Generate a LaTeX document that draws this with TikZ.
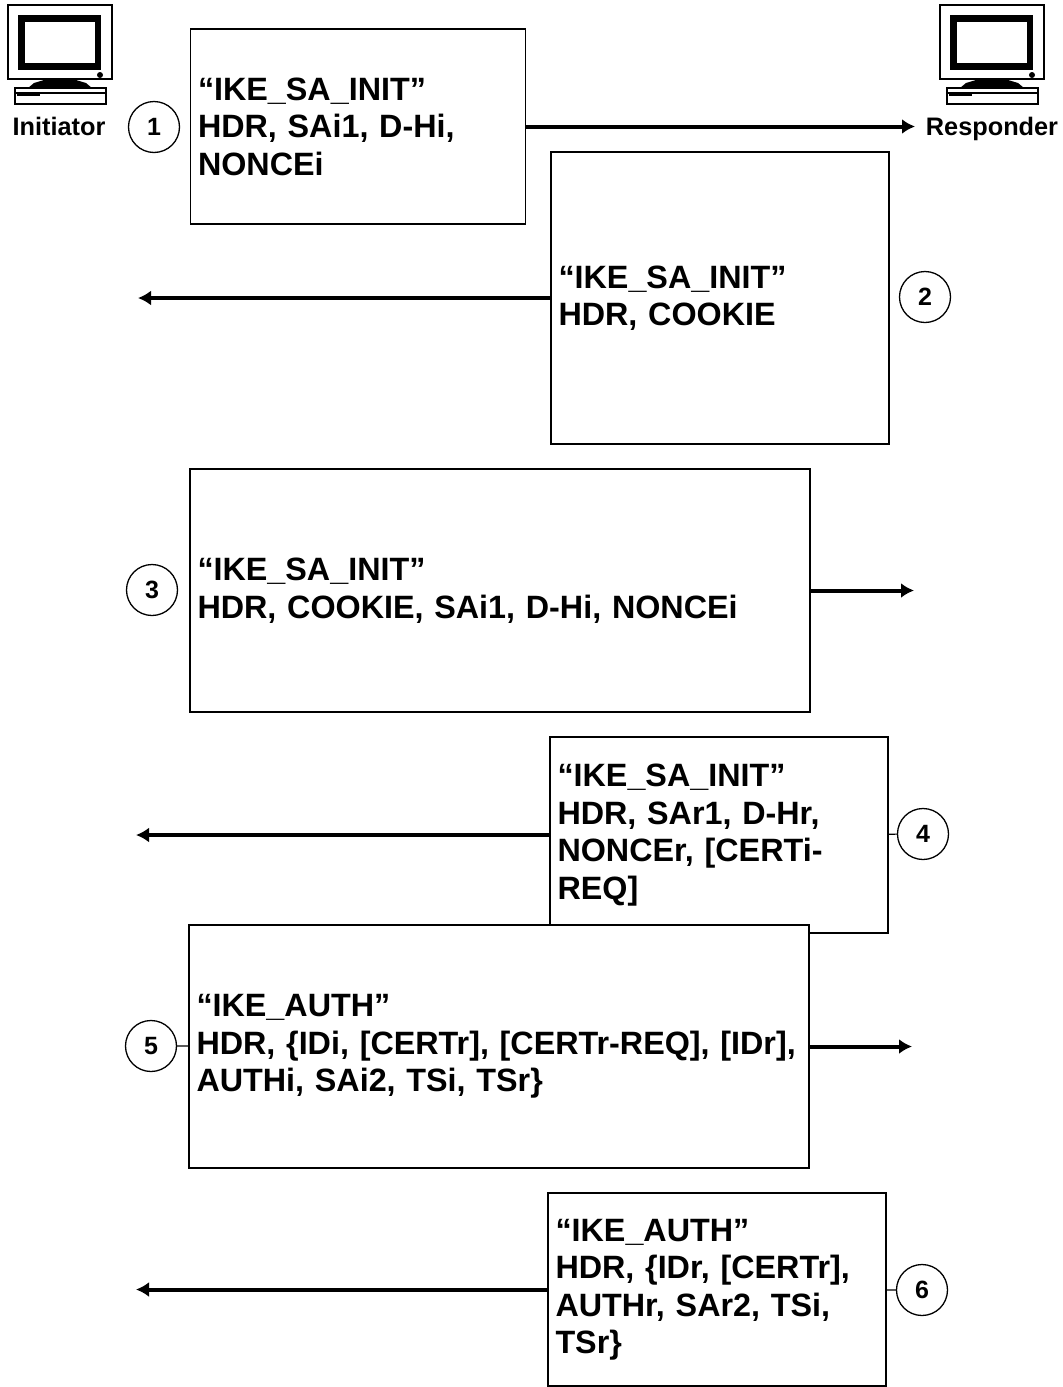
\documentclass[tikz,border=0pt]{standalone}
\usepackage{fontspec}
\setmainfont{Liberation Sans}
\usetikzlibrary{arrows.meta,positioning}

\begin{document}
\begin{tikzpicture}[
  x=1pt, y=-1pt,
  font=\bfseries,
  msgbox/.style={draw, line width=1.3pt, fill=white, inner xsep=7.5pt, inner ysep=0pt, align=left, font=\fontsize{32.3}{37.5}\selectfont\bfseries},
  numcircle/.style={draw, circle, line width=1.3pt, minimum size=51pt, inner sep=0pt, font=\fontsize{25}{28}\selectfont\bfseries},
  hostlabel/.style={anchor=base, font=\fontsize{25.3}{28}\selectfont\bfseries},
  msg/.style={-{Latex[length=13pt,width=15pt]}, line width=4pt},
  tick/.style={line width=1.2pt},
  monitor/.pic={
    \draw[line width=1.5pt, fill=white] (8,5) rectangle (112,79);
    \fill (18,15) rectangle (101,70);
    \fill[white] (25,22) rectangle (95,63);
    \fill (100,75) circle (3pt);
    \fill (28,88) -- (34,83) -- (44,80) -- (76,80) -- (86,83) -- (92,88) -- cycle;
    \draw[line width=1.5pt, fill=white] (15,88) rectangle (106,104);
    \fill (17,93) rectangle (40,96);
    \draw[line width=1.2pt] (15,93) -- (106,93);
  }
]

\useasboundingbox (0,0) rectangle (1063,1387);

\pic at (0,0) {monitor};
\pic at (932,0) {monitor};
\node[hostlabel] (init) at (59,135) {Initiator};
\node[hostlabel] (resp) at (992,135) {Responder};

\node[msgbox, text width=320pt, minimum height=195pt] (b1) at (358,126.5)
  {“IKE\_SA\_INIT”\\HDR, SAi1, D-Hi,\\NONCEi};
\node[msgbox, text width=323pt, minimum height=292pt] (b2) at (720,298)
  {“IKE\_SA\_INIT”\\HDR, COOKIE};
\node[msgbox, text width=605pt, minimum height=243pt] (b3) at (500,590.5)
  {“IKE\_SA\_INIT”\\HDR, COOKIE, SAi1, D-Hi, NONCEi};
\node[msgbox, text width=323pt, minimum height=196pt] (b4) at (719,835)
  {“IKE\_SA\_INIT”\\HDR, SAr1, D-Hr,\\NONCEr, [CERTi-\\REQ]};
\node[msgbox, text width=605pt, minimum height=243pt] (b5) at (499,1046.5)
  {“IKE\_AUTH”\\HDR, \{IDi, [CERTr], [CERTr-REQ], [IDr],\\AUTHi, SAi2, TSi, TSr\}};
\node[msgbox, text width=323pt, minimum height=193pt] (b6) at (717,1289.5)
  {“IKE\_AUTH”\\HDR, \{IDr, [CERTr],\\AUTHr, SAr2, TSi,\\TSr\}};

\node[numcircle] (n1) at (154,127) {1};
\node[numcircle] (n2) at (925,297) {2};
\node[numcircle] (n3) at (152,590) {3};
\node[numcircle] (n4) at (923,834) {4};
\node[numcircle] (n5) at (151,1046) {5};
\node[numcircle] (n6) at (922,1290) {6};

\coordinate (e1) at (915,126.5);
\coordinate (e2) at (138,298);
\coordinate (e3) at (914,590.5);
\coordinate (e4) at (136,835);
\coordinate (e5) at (912,1046.5);
\coordinate (e6) at (136,1289.5);

\draw[msg] (b1.east) -- (e1);
\draw[msg] (b2.west) -- (e2);
\draw[msg] (b3.east) -- (e3);
\draw[msg] (b4.west) -- (e4);
\draw[msg] (b5.east) -- (e5);
\draw[msg] (b6.west) -- (e6);

\draw[tick] (n4) -- (b4);
\draw[tick] (n5) -- (b5);
\draw[tick] (n6) -- (b6);

\end{tikzpicture}
\end{document}
